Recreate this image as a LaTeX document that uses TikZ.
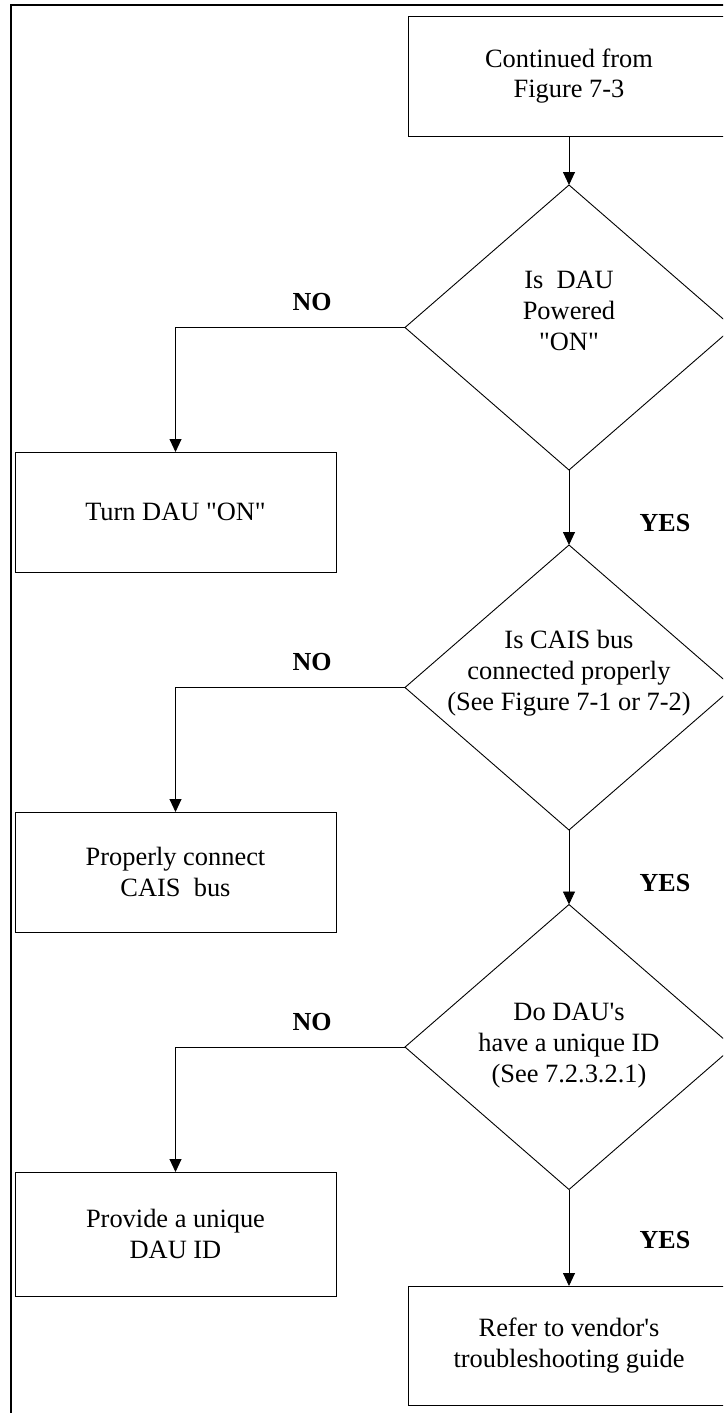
\documentclass[tikz,border=0pt]{standalone}
\usepackage{fontspec}
\setmainfont{Liberation Serif}
\usetikzlibrary{shapes.geometric,arrows.meta}
\begin{document}
\begin{tikzpicture}[x=1pt,y=-1pt,
  every node/.style={font=\fontsize{26.4}{31}\selectfont, outer sep=0pt, inner sep=0pt},
  stepbox/.style={draw, line width=0.9pt, minimum width=321pt, minimum height=120pt, align=center},
  decision/.style={diamond, draw, line width=0.9pt, minimum width=328pt, minimum height=285pt},
  qtext/.style={align=center},
  answer/.style={font=\fontsize{26}{30}\selectfont\bfseries},
  arr/.style={line width=0.9pt, -{Triangle[width=12pt,length=13pt]}}]
\useasboundingbox (0,0) rectangle (723,1413);
\clip (0,0) rectangle (723,1413);

% page frame (top and left edges)
\draw[line width=1.6pt] (11,1420) -- (11,5) -- (735,5);

% start box
\node[stepbox, minimum width=322pt, font=\fontsize{26.4}{30}\selectfont] (start) at (569,76) {Continued from\\Figure 7-3};

% first decision
\node[decision] (d1) at (569,327.5) {};
\node[qtext] (q1) at (569,311) {Is~~DAU\\Powered\\\textquotedbl ON\textquotedbl};
\node[stepbox] (b1) at (175.5,512) {Turn DAU \textquotedbl ON\textquotedbl};

% second decision
\node[decision] (d2) at (569,687.5) {};
\node[qtext] (q2) at (569,673) {Is CAIS bus\\connected properly\\(See Figure 7-1 or 7-2)};
\node[stepbox] (b2) at (175.5,872) {Properly connect\\CAIS~~bus};

% third decision
\node[decision] (d3) at (569,1047) {};
\node[qtext] (q3) at (569,1046) {Do DAU\textquotesingle s\\have a unique ID\\(See 7.2.3.2.1)};
\node[stepbox, minimum height=124pt] (b3) at (175.5,1234) {Provide a unique\\DAU ID};

% final box
\node[stepbox, minimum width=322pt, minimum height=119pt] (fin) at (569,1345.5) {Refer to vendor\textquotesingle s\\troubleshooting guide};

% answers
\node[answer] (no1) at (312,302) {NO};
\node[answer] (no2) at (312,662) {NO};
\node[answer] (no3) at (312,1022) {NO};
\node[answer] (yes1) at (665,523) {YES};
\node[answer] (yes2) at (665,883) {YES};
\node[answer] (yes3) at (665,1240) {YES};

% connectors
\draw[arr] (start.south) -- (d1.north);
\draw[arr] (d1.west) -| (b1.north);
\draw[arr] (d1.south) -- (d2.north);
\draw[arr] (d2.west) -| (b2.north);
\draw[arr] (d2.south) -- (d3.north);
\draw[arr] (d3.west) -| (b3.north);
\draw[arr] (d3.south) -- (fin.north);
\end{tikzpicture}
\end{document}
